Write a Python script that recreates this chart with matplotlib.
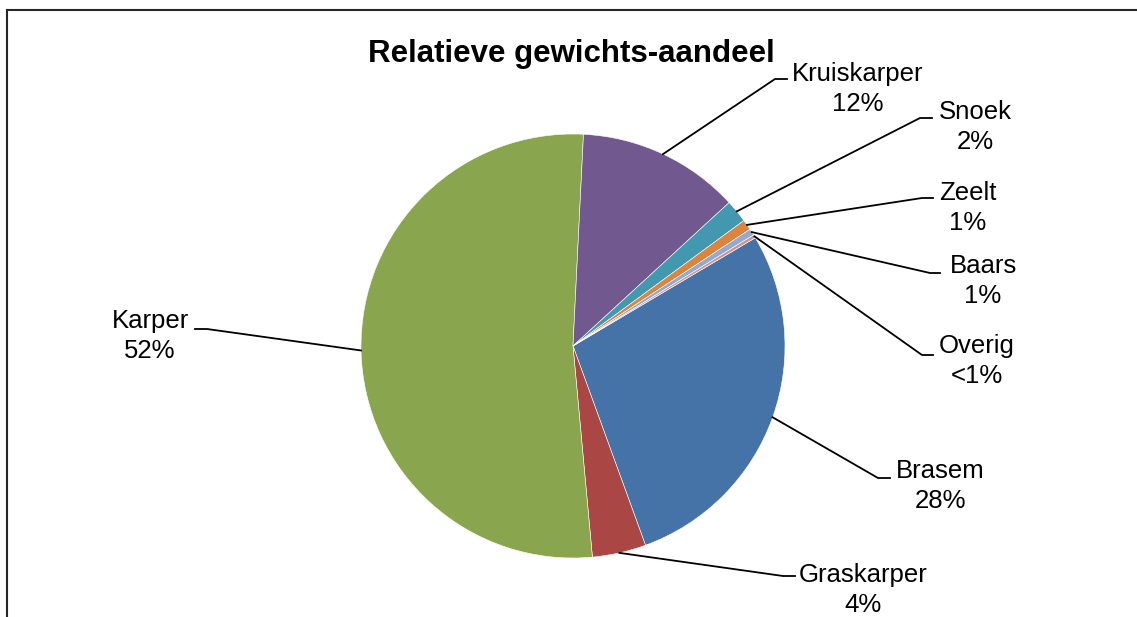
import numpy as np
import matplotlib
matplotlib.use('Agg')
import matplotlib.pyplot as plt
from matplotlib.lines import Line2D

# data, in the order the slices are drawn (clockwise)
soorten = ['Brasem', 'Graskarper', 'Karper', 'Kruiskarper', 'Snoek', 'Zeelt', 'Baars', 'Overig']
aandeel = [28.0, 4.1, 52.3, 12.4, 1.75, 0.8, 0.5, 0.25]
labels_pct = ['28%', '4%', '52%', '12%', '2%', '1%', '1%', '<1%']
kleuren = ['#4572A7', '#AA4643', '#89A54E', '#71588F', '#4198AF', '#DB843D', '#93A9CF', '#D19392']

W, H = 1137, 617
plt.rcParams['font.family'] = ['Liberation Sans', 'DejaVu Sans']

fig = plt.figure(figsize=(W / 100, H / 100), dpi=100)
ax = fig.add_axes([0, 0, 1, 1])

def Y(py):
    return H - py

cx, cy, r = 573, 346, 212
wedges, _ = ax.pie(aandeel, colors=kleuren, startangle=30.7, counterclock=False,
                   center=(cx, Y(cy)), radius=r,
                   wedgeprops=dict(edgecolor='white', linewidth=0.4))
ax.set_xlim(0, W)
ax.set_ylim(0, H)
ax.set_aspect('equal')
ax.axis('off')

# label layout: horizontal leader start/end x, leader y, text centre x, first baseline
layout = {
    'Brasem':      (878, 890, 478, 940, 478),
    'Graskarper':  (783, 795, 576, 863, 582),
    'Karper':      (207, 195, 329, 150, 328),
    'Kruiskarper': (775, 787, 79, 858, 81),
    'Snoek':       (920, 932, 118, 975, 119),
    'Zeelt':       (922, 933, 198, 968, 200),
    'Baars':       (930, 940, 273, 983, 273),
    'Overig':      (922, 933, 355, 977, 353),
}

for w, naam, pct in zip(wedges, soorten, labels_pct):
    mid = np.deg2rad((w.theta1 + w.theta2) / 2)
    px = cx + r * np.cos(mid)
    py = Y(cy) + r * np.sin(mid)
    x0, x1, ly, tx, tb = layout[naam]
    ax.plot([px, x0, x1], [py, Y(ly), Y(ly)], color='black', lw=1.3,
            solid_joinstyle='miter', clip_on=False)
    ax.text(tx, Y(tb), naam, ha='center', va='baseline', fontsize=18.5)
    ax.text(tx, Y(tb + 30), pct, ha='center', va='baseline', fontsize=18.5)

ax.text(571, Y(62), 'Relatieve gewichts-aandeel', ha='center', va='baseline',
        fontsize=22.5, fontweight='bold')

# chart border (only top and left visible in the crop)
fig.add_artist(Line2D([7 / W, 1], [1 - 10 / H, 1 - 10 / H], color='#262626', lw=1.5))
fig.add_artist(Line2D([7 / W, 7 / W], [0, 1 - 10 / H], color='#262626', lw=1.5))

fig.savefig('out.png', dpi=100)
